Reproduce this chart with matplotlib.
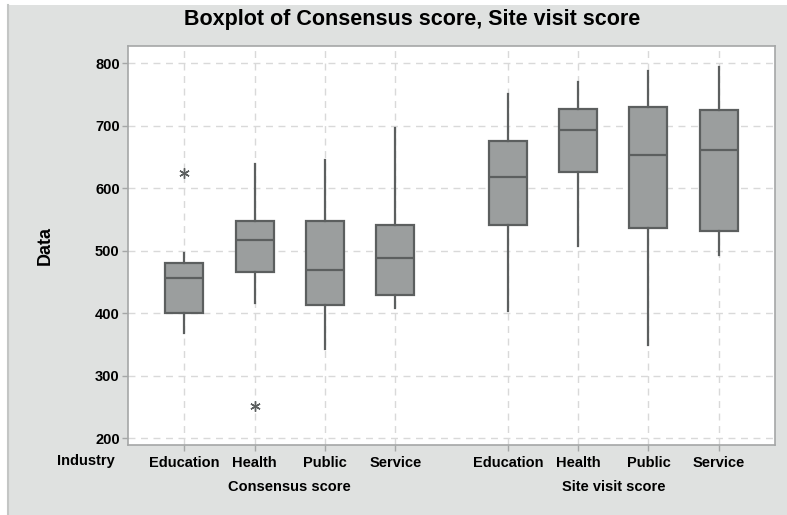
import matplotlib
matplotlib.use("Agg")
import matplotlib.pyplot as plt
from matplotlib.patches import Rectangle
from matplotlib.lines import Line2D

plt.rcParams['font.family'] = ['Liberation Sans', 'DejaVu Sans']

# ---- data ----
industries = ["Education", "Health", "Public", "Service"]
groups = ["Consensus score", "Site visit score"]

consensus_whislo = [369, 416, 342, 409]
consensus_q1     = [400, 466, 414, 430]
consensus_med    = [457, 518, 470, 489]
consensus_q3     = [481, 548, 548, 542]
consensus_whishi = [497, 639, 645, 697]
consensus_fliers = [[625], [251], [], []]

site_whislo = [404, 507, 349, 494]
site_q1     = [542, 627, 537, 531]
site_med    = [618, 694, 653, 661]
site_q3     = [676, 727, 730, 725]
site_whishi = [751, 771, 788, 795]
site_fliers = [[], [], [], []]

yticks = [200, 300, 400, 500, 600, 700, 800]

# ---- figure ----
fig = plt.figure(figsize=(7.87, 5.15), dpi=100)
fig.patch.set_facecolor("white")
fig.patches.append(Rectangle((8/787, 0), 1, 1 - 5/515, transform=fig.transFigure,
                             facecolor="#dfe1e0", edgecolor="none", zorder=-10))
fig.lines.append(Line2D([8/787, 8/787], [0, 1 - 5/515], transform=fig.transFigure,
                        color="#c4c6c5", lw=1.5, zorder=-9))

ax = fig.add_axes([128/787, 1-445/515, 647/787, 399/515])
ax.set_facecolor("white")

positions = [1, 2, 3, 4, 5.6, 6.6, 7.6, 8.6]
stats = []
for i in range(4):
    stats.append(dict(whislo=consensus_whislo[i], q1=consensus_q1[i], med=consensus_med[i],
                      q3=consensus_q3[i], whishi=consensus_whishi[i], fliers=consensus_fliers[i]))
for i in range(4):
    stats.append(dict(whislo=site_whislo[i], q1=site_q1[i], med=site_med[i],
                      q3=site_q3[i], whishi=site_whishi[i], fliers=site_fliers[i]))

edge = "#5c5f5f"
ax.bxp(stats, positions=positions, widths=0.54, patch_artist=True, showcaps=False,
       boxprops=dict(facecolor="#9b9e9e", edgecolor=edge, linewidth=1.6),
       medianprops=dict(color=edge, linewidth=1.6),
       whiskerprops=dict(color=edge, linewidth=1.6),
       flierprops=dict(marker=(6, 2, 0), markersize=7.5, markeredgecolor=edge,
                       markerfacecolor=edge, markeredgewidth=1.0, linestyle="none"),
       zorder=3)

ax.set_xlim(0.2, 9.4)
ax.set_ylim(189, 828)
ax.set_yticks(yticks)
ax.set_yticklabels([str(v) for v in yticks], fontsize=10.5, fontweight="bold")
ax.set_xticks(positions)
ax.set_xticklabels(industries + industries, fontsize=10.5, fontweight="bold")

ax.grid(True, color="#d9d9d9", linestyle=(0, (5, 4)), linewidth=1.0, zorder=0)
ax.set_axisbelow(True)
for s in ax.spines.values():
    s.set_color("#a5a7a7")
    s.set_linewidth(1.2)
ax.tick_params(axis="both", colors="#a5a7a7", length=4, width=1.0, labelcolor="black")
ax.tick_params(axis="x", pad=4)
ax.tick_params(axis="y", pad=2)

ax.set_ylabel("Data", fontsize=13, fontweight="bold", labelpad=30)

# group labels
ax.text(-0.4, -0.040, "Industry", transform=ax.get_xaxis_transform(), ha="center", va="center",
        fontsize=10.5, fontweight="bold")
for gi, g in enumerate(groups):
    cx = sum(positions[gi*4:(gi+1)*4]) / 4
    ax.text(cx, -0.106, g, transform=ax.get_xaxis_transform(), ha="center", va="center",
            fontsize=10.5, fontweight="bold")

fig.text(412/787, 1-19/515, "Boxplot of Consensus score, Site visit score",
         ha="center", va="center", fontsize=15.5, fontweight="bold")

fig.savefig("out.png", dpi=100, facecolor=fig.get_facecolor())
